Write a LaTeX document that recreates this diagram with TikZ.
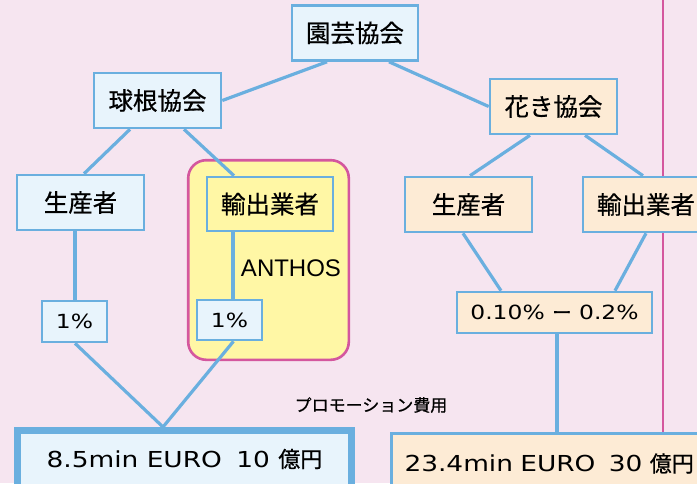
\documentclass[tikz,border=0pt]{standalone}
\usepackage{fontspec}
\setmainfont{Noto Sans CJK JP}[FakeBold=0.6]
\newfontfamily\lat{DejaVu Sans}[FakeStretch=1.2]
\newfontfamily\anth{Liberation Sans}
\usetikzlibrary{calc}
\definecolor{bgc}{HTML}{F6E5F0}
\definecolor{lbf}{HTML}{E8F4FC}
\definecolor{bbd}{HTML}{6AAFDF}
\definecolor{pch}{HTML}{FDEBD5}
\definecolor{ylw}{HTML}{FFF7A5}
\definecolor{mgt}{HTML}{D4579E}
\tikzset{
  boxbase/.style={draw=bbd, line width=2.6pt, inner sep=0pt, minimum width=126pt, minimum height=55pt, font=\fontsize{24.5}{28}\selectfont},
  bluebox/.style={boxbase, fill=lbf},
  peachbox/.style={boxbase, fill=pch},
  yelbox/.style={boxbase, fill=ylw},
  pctbox/.style={draw=bbd, line width=2.6pt, inner sep=0pt, minimum width=65pt, minimum height=41pt, font=\fontsize{19.5}{22}\selectfont\lat},
  conn/.style={draw=bbd, line width=3.2pt},
}
\begin{document}
\begin{tikzpicture}[x=1pt,y=-1pt]
\useasboundingbox (0,0) rectangle (697,483);
\clip (0,0) rectangle (697,483);
\fill[bgc] (0,0) rectangle (697,483);
% magenta divider
\draw[mgt, line width=2.2pt] (663,-5) -- (663,440);
% yellow container
\node[draw=mgt, line width=2.6pt, fill=ylw, rounded corners=18pt, minimum width=160.6pt, minimum height=199.6pt, inner sep=0pt] (cont) at (268.5,260) {};
% nodes
\node[bluebox] (en) at (355,33) {園芸協会};
\node[bluebox, minimum width=127pt] (kyu) at (157.5,100.5) {球根協会};
\node[peachbox, minimum width=127pt] (hana) at (553.5,106.5) {花き協会};
\node[bluebox, minimum width=127pt] (seiL) at (80.5,202.5) {生産者};
\node[yelbox, minimum height=54pt] (yushL) at (270,204) {輸出業者};
\node[peachbox, minimum width=127pt] (seiR) at (468.5,204.5) {生産者};
\node[peachbox] (yushR) at (646,204.5) {輸出業者};
\node[font=\fontsize{24}{26}\selectfont\anth] (anthos) at (291,268) {ANTHOS};
\node[pctbox, fill=lbf] (p1L) at (74.5,321.5) {1\%};
\node[pctbox, fill=lbf, minimum height=40pt] (p1R) at (229.5,320) {1\%};
\node[pctbox, fill=pch, minimum width=195pt] (pct) at (554.5,312.5) {0.10\% {\rmfamily ー} 0.2\%};
\node[font=\fontsize{17}{19}\selectfont] (promo) at (371,405) {プロモーション費用};
\node[draw=bbd, line width=7pt, fill=lbf, minimum width=334pt, minimum height=57pt, inner sep=0pt, font=\fontsize{22}{26}\selectfont] (eur1) at (184.5,459) {{\lat 8.5min EURO\hspace{6pt} 10 }億円};
\node[draw=bbd, line width=2.6pt, fill=pch, anchor=north west, text width=380pt, align=left, inner xsep=13pt, inner ysep=0pt, minimum height=60pt, font=\fontsize{22}{26}\selectfont] (eur2) at (390.2,432.2) {{\lat 23.4min EURO\hspace{6pt} 30 }億円};
% connectors
\draw[conn] ([xshift=-28pt]en.south) -- (kyu.east);
\draw[conn] ([xshift=34pt]en.south) -- (hana.west);
\draw[conn] ([xshift=-27.5pt]kyu.south) -- ([xshift=3.5pt]seiL.north);
\draw[conn] ([xshift=26.5pt]kyu.south) -- ([xshift=-36pt]yushL.north);
\draw[conn] ([xshift=-23.5pt]hana.south) -- ([xshift=1.5pt]seiR.north);
\draw[conn] ([xshift=31.5pt]hana.south) -- ([xshift=-3pt]yushR.north);
\draw[conn] ([xshift=0.5pt]p1L.north) -- ([xshift=0.5pt]p1L.north |- seiL.south);
\draw[conn] ([xshift=3.5pt]p1R.north) -- ([xshift=3.5pt]p1R.north |- yushL.south);
\draw[conn] ([xshift=0.5pt]p1L.south) -- ([xshift=-21.5pt]eur1.north);
\draw[conn] ([xshift=4pt]p1R.south) -- ([xshift=-21.5pt]eur1.north);
\draw[conn] ([xshift=-5.5pt]seiR.south) -- ([xshift=-53.5pt]pct.north);
\draw[conn] (yushR.south) -- ([xshift=60.5pt]pct.north);
\draw[conn] ([xshift=2.5pt]pct.south) -- ([xshift=2.5pt]pct.south |- eur2.north);
\end{tikzpicture}
\end{document}
